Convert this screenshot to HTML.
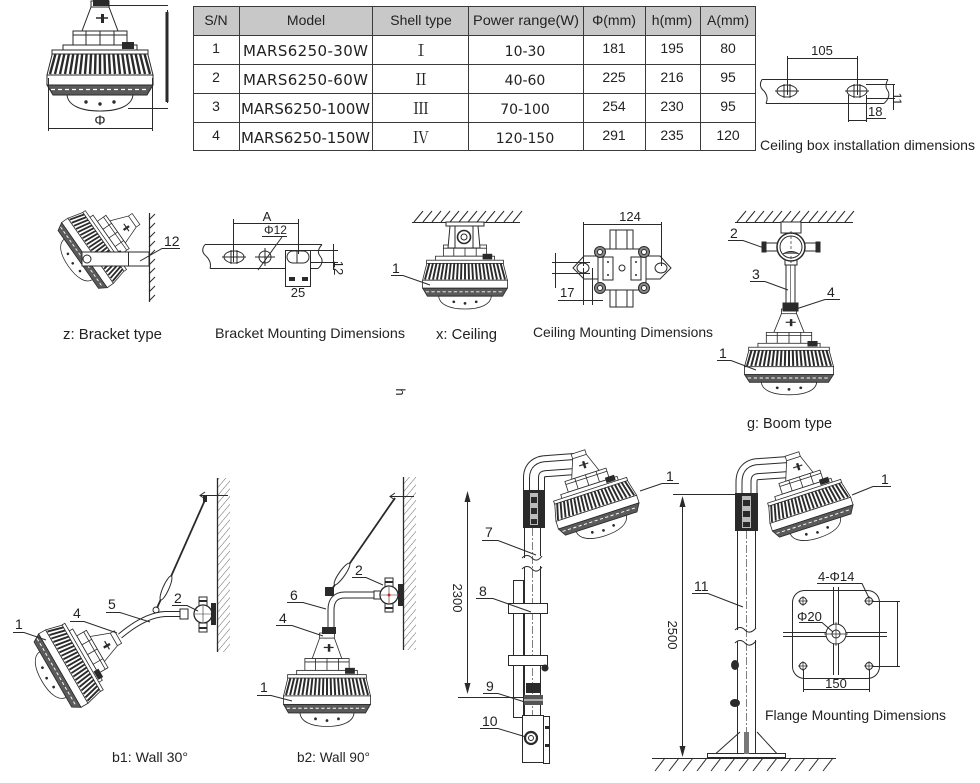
<!DOCTYPE html>
<html><head><meta charset="utf-8">
<style>
html,body{margin:0;padding:0;background:#fff;}
svg{display:block;}
text{font-family:"Liberation Sans",Arial,sans-serif;fill:#222;}
.dj{font-family:"DejaVu Sans","Liberation Sans",sans-serif;}
.rn{font-family:"Liberation Serif","Noto Serif CJK SC",serif;}
</style></head><body>
<svg width="980" height="783" viewBox="0 0 980 783" xmlns="http://www.w3.org/2000/svg">
<defs>
<pattern id="hatch" width="5" height="5" patternUnits="userSpaceOnUse" patternTransform="rotate(40)">
<line x1="0" y1="0" x2="0" y2="5" stroke="#555" stroke-width="0.9"/></pattern>
<g id="neck">
<path d="M-9,0 L9,0 L9,6 L18,30 L-18,30 L-9,6 Z" fill="#fff" stroke="#2a2a2a"/>
<path d="M-9,6 H9" stroke="#2a2a2a"/>
<rect x="1" y="13" width="3" height="9" fill="#2a2a2a"/>
<path d="M-4,17 H8" stroke="#2a2a2a" stroke-width="1.5"/>
</g>
<g id="body">
<rect x="-27" y="30" width="54" height="14" fill="#fff" stroke="#2a2a2a"/>
<path d="M-14,30V44M0,30V44M14,30V44M-27,34H27" stroke="#2a2a2a" fill="none"/>
<rect x="-37" y="44" width="74" height="6" fill="#fff" stroke="#2a2a2a"/>
<rect x="22" y="41" width="12" height="7" fill="#2a2a2a"/>
<path d="M-47,50 L47,50 L53,74 L-53,74 Z" fill="#fff" stroke="#2a2a2a"/>
<path d="M-44,51L-50,73M-39.6,51L-45,73M-35.2,51L-40,73M-30.8,51L-35,73M-26.4,51L-30,73M-22,51L-25,73M-17.6,51L-20,73M-13.2,51L-15,73M-8.8,51L-10,73M-4.4,51L-5,73M0,51L0,73M4.4,51L5,73M8.8,51L10,73M13.2,51L15,73M17.6,51L20,73M22,51L25,73M26.4,51L30,73M30.8,51L35,73M35.2,51L40,73M39.6,51L45,73M44,51L50,73" stroke="#2a2a2a" stroke-width="2.4"/>
<rect x="-48" y="49" width="96" height="4" fill="#fff" stroke="#2a2a2a"/>
<rect x="-53" y="74" width="106" height="10" fill="#fff" stroke="#2a2a2a"/>
<path d="M-53,84 L53,84 L47,94 L-47,94 Z" fill="#5a5a5a" stroke="#2a2a2a"/>
<path d="M-49,88.5 H49" stroke="#fff" stroke-width="1.2" stroke-dasharray="4 3"/>
<path d="M-33,94 C-32,104 -20,110 0,110 C20,110 32,104 33,94 Z" fill="#fff" stroke="#2a2a2a"/>
<circle cx="-14" cy="101" r="1.7" fill="#2a2a2a"/><circle cx="0" cy="103" r="1.7" fill="#2a2a2a"/><circle cx="14" cy="101" r="1.7" fill="#2a2a2a"/>
</g>
<g id="lamp"><use href="#neck"/><use href="#body"/></g>
</defs>

<!-- ===== Top-left lamp ===== -->
<use href="#lamp" transform="translate(100,1)"/>
<path d="M93,0 h16 v6 h-16z" fill="#2a2a2a"/>
<g stroke="#2a2a2a" fill="none" stroke-width="1">
<path d="M108,5.5 H168 M128,108.5 H168 M167.5,10 V103"/>
<path d="M48.5,78 V131 M152.5,78 V131 M48,128.5 H153"/>
</g>
<rect x="165.5" y="12" width="3" height="90" fill="#2a2a2a"/>
<text x="100" y="125" font-size="14" text-anchor="middle">Φ</text>

<!-- ===== Table ===== -->
<rect x="193" y="6" width="562" height="29" fill="#c8c8c8"/>
<g stroke="#3a3a3a" stroke-width="1" fill="none">
<path d="M193,6.5H755M193,35.5H755M193,64.5H755M193,93.5H755M193,122.5H755M193,150.5H755"/>
<path d="M193.5,6V151M239.5,6V151M372.5,6V151M468.5,6V151M583.5,6V151M645.5,6V151M700.5,6V151M755.5,6V151"/>
</g>
<g font-size="14" text-anchor="middle">
<text x="216" y="25">S/N</text>
<text x="306" y="25">Model</text>
<text x="421" y="25">Shell type</text>
<text x="526" y="25" textLength="106" lengthAdjust="spacingAndGlyphs">Power range(W)</text>
<text x="614" y="25">Φ(mm)</text>
<text x="672" y="25">h(mm)</text>
<text x="728" y="25">A(mm)</text>
<text x="216" y="53">1</text><text x="216" y="82">2</text><text x="216" y="111">3</text><text x="216" y="140">4</text>
<text x="614" y="53">181</text><text x="614" y="82">225</text><text x="614" y="111">254</text><text x="614" y="140">291</text>
<text x="672" y="53">195</text><text x="672" y="82">216</text><text x="672" y="111">230</text><text x="672" y="140">235</text>
<text x="728" y="53">80</text><text x="728" y="82">95</text><text x="728" y="111">95</text><text x="728" y="140">120</text>
</g>
<g class="dj" font-size="15" text-anchor="middle">
<text class="dj" x="305.5" y="56" textLength="125">MARS6250-30W</text>
<text class="dj" x="305.5" y="85" textLength="125">MARS6250-60W</text>
<text class="dj" x="305.5" y="114" textLength="129">MARS6250-100W</text>
<text class="dj" x="305.5" y="143" textLength="129">MARS6250-150W</text>
<text class="dj" x="525" y="56" font-size="14">10-30</text>
<text class="dj" x="525" y="85" font-size="14">40-60</text>
<text class="dj" x="525" y="114" font-size="14">70-100</text>
<text class="dj" x="525" y="143" font-size="14">120-150</text>
</g>
<g class="rn" font-size="16" text-anchor="middle">
<text class="rn" x="421" y="56">Ⅰ</text>
<text class="rn" x="421" y="85">Ⅱ</text>
<text class="rn" x="421" y="114">Ⅲ</text>
<text class="rn" x="421" y="143">Ⅳ</text>
</g>

<!-- ===== Ceiling box installation ===== -->
<g stroke="#2a2a2a" fill="none" stroke-width="1">
<path d="M762,79.5 H888 M766,103.5 H884"/>
<path d="M762,79.5 Q758,86 764,91 Q769,97 766,103.5 M888,79.5 Q884,86 888,91 Q891,97 884,103.5"/>
<ellipse cx="787" cy="91" rx="10" ry="6" fill="#fff"/>
<ellipse cx="857" cy="91" rx="10" ry="6" fill="#fff"/>
<path d="M775,91H799 M784,84V98 M790,84V98 M845,91H869 M854,84V98 M860,84V98"/>
<path d="M787.5,56 V95 M857.5,56 V95 M787,58.5 H858"/>
<path d="M866,84.5 H895 M866,98.5 H895 M893.5,84 V110"/>
<path d="M848.5,95 V122 M866.5,95 V122 M848,120.5 H867 M866,118.5 H886"/>
</g>
<text x="822" y="55" font-size="13" text-anchor="middle">105</text>
<text x="868" y="116" font-size="13">18</text>
<text transform="translate(893,99) rotate(90)" font-size="12" text-anchor="middle">11</text>
<text x="760" y="150" font-size="14" textLength="215" lengthAdjust="spacingAndGlyphs">Ceiling box installation dimensions</text>

<!-- ===== z: Bracket type ===== -->
<use href="#lamp" transform="translate(136,219) rotate(55) scale(0.75)"/>
<g stroke="#2a2a2a" stroke-width="1">
<rect x="82" y="252" width="67" height="14" fill="#fff"/>
<path d="M128.5,252V266" fill="none"/>
<circle cx="87" cy="259" r="4" fill="#fff"/>
<path d="M149.5,213 V302" fill="none" stroke-width="1.2"/>
<path d="M149,220 l6,-6 m-6,15 l6,-6 m-6,15 l6,-6 m-6,15 l6,-6 m-6,15 l6,-6 m-6,15 l6,-6 m-6,15 l6,-6 m-6,15 l6,-6 m-6,15 l6,-6 m-6,15 l6,-6" fill="none"/>
<path d="M180,248.5 H162 L140,261" fill="none"/>
</g>
<text x="164" y="246" font-size="14">12</text>
<text x="63" y="339" font-size="15" textLength="99" lengthAdjust="spacingAndGlyphs">z: Bracket type</text>

<!-- ===== Bracket Mounting Dimensions ===== -->
<g stroke="#2a2a2a" fill="none" stroke-width="1">
<path d="M205,244.5 H322 M210,268.5 H318"/>
<path d="M205,244.5 Q200,251 206,256 Q212,262 210,268.5 M322,244.5 Q316,251 320,256 Q325,262 318,268.5"/>
<ellipse cx="234" cy="257" rx="10" ry="6" fill="#fff"/>
<path d="M222,257H246 M231,250V264 M237,250V264"/>
<circle cx="265" cy="257" r="6" fill="#fff"/>
<path d="M255,257H275 M265,248V266"/>
<rect x="285.5" y="250.5" width="25" height="36" fill="#fff"/>
<rect x="287" y="251" width="22" height="12" rx="6" fill="#fff"/>
<path d="M297,251V263"/>
<path d="M233.5,219 V262 M298.5,219 V254 M233,223.5 H299"/>
<path d="M287,236.5 H262 M282,237 L258,270"/>
<path d="M310,250.5 H338 M310,262.5 H338 M333.5,244 V270"/>
</g>
<rect x="289" y="277" width="6" height="4" fill="#2a2a2a"/><rect x="302" y="277" width="6" height="4" fill="#2a2a2a"/>
<text x="267" y="221" font-size="13" text-anchor="middle">A</text>
<text x="264" y="234" font-size="12">Φ12</text>
<text x="298" y="297" font-size="13" text-anchor="middle">25</text>
<text transform="translate(334,268) rotate(90)" font-size="13" text-anchor="middle">12</text>
<text x="215" y="338" font-size="14" textLength="190" lengthAdjust="spacingAndGlyphs">Bracket Mounting Dimensions</text>

<!-- ===== x: Ceiling ===== -->
<g stroke="#2a2a2a" fill="none" stroke-width="1">
<path d="M412,222.5 H520"/>
<path d="M414,222 l9,-11 m0,11 l9,-11 m0,11 l9,-11 m0,11 l9,-11 m0,11 l9,-11 m0,11 l9,-11 m0,11 l9,-11 m0,11 l9,-11 m0,11 l9,-11 m0,11 l9,-11 m0,11 l9,-11 m0,11 l9,-11"/>
</g>
<use href="#body" transform="translate(465,221) scale(0.8)"/>
<g stroke="#2a2a2a" stroke-width="1">
<rect x="446" y="222" width="38" height="4" fill="#fff"/>
<path d="M450,226 L478,226 L480,248 L448,248 Z" fill="#fff"/>
<path d="M455,226V248 M473,226V248" fill="none"/>
<circle cx="464" cy="237" r="6.5" fill="#fff" stroke-width="1.6"/>
<circle cx="464" cy="237" r="3" fill="#fff"/>
<path d="M391,275.5 H403 L430,285" fill="none"/>
</g>
<text x="392" y="273" font-size="14">1</text>
<text x="436" y="339" font-size="15" textLength="61" lengthAdjust="spacingAndGlyphs">x: Ceiling</text>

<!-- ===== Ceiling Mounting Dimensions ===== -->
<g stroke="#2a2a2a" stroke-width="1" fill="#fff">
<rect x="610" y="230" width="23" height="77"/>
<path d="M616,230V307 M627,230V307" fill="none"/>
<path d="M573,268 L584,256 L660,256 L671,268 L660,279 L584,279 Z"/>
<rect x="598" y="249" width="48" height="41" rx="6"/>
<circle cx="600" cy="252" r="5.5" fill="#888"/><circle cx="644" cy="252" r="5.5" fill="#888"/>
<circle cx="600" cy="288" r="5.5" fill="#888"/><circle cx="644" cy="288" r="5.5" fill="#888"/>
<circle cx="600" cy="252" r="2.5"/><circle cx="644" cy="252" r="2.5"/>
<circle cx="600" cy="288" r="2.5"/><circle cx="644" cy="288" r="2.5"/>
<rect x="603" y="257" width="10" height="23"/><rect x="631" y="257" width="10" height="23"/>
<circle cx="622" cy="268" r="3"/>
<ellipse cx="583" cy="268" rx="6" ry="5"/><ellipse cx="661" cy="268" rx="6" ry="5"/>
<g fill="none">
<path d="M583.5,222 V266 M661.5,222 V266 M583,224.5 H662"/>
<path d="M583.5,268 V305 M592.5,268 V305 M558,300.5 H603"/>
<path d="M555.5,253 V288 M552,262.5 H590 M552,273.5 H590"/>
</g>
</g>
<circle cx="608" cy="262" r="1" fill="#2a2a2a"/><circle cx="608" cy="275" r="1" fill="#2a2a2a"/>
<circle cx="636" cy="262" r="1" fill="#2a2a2a"/><circle cx="636" cy="275" r="1" fill="#2a2a2a"/>
<text x="630" y="221" font-size="13" text-anchor="middle">124</text>
<text x="560" y="297" font-size="13">17</text>
<text x="533" y="337" font-size="14" textLength="180" lengthAdjust="spacingAndGlyphs">Ceiling Mounting Dimensions</text>

<!-- ===== g: Boom type ===== -->
<g stroke="#2a2a2a" fill="none" stroke-width="1">
<path d="M735,222.5 H853"/>
<path d="M737,222 l9,-11 m0,11 l9,-11 m0,11 l9,-11 m0,11 l9,-11 m0,11 l9,-11 m0,11 l9,-11 m0,11 l9,-11 m0,11 l9,-11 m0,11 l9,-11 m0,11 l9,-11 m0,11 l9,-11 m0,11 l9,-11 m0,11 l9,-11"/>
</g>
<use href="#lamp" transform="translate(789,309) scale(0.84,0.78)"/>
<g stroke="#2a2a2a" stroke-width="1">
<rect x="781" y="222" width="20" height="11" fill="#fff"/>
<rect x="786" y="264" width="9" height="41" fill="#fff"/>
<path d="M790.5,264V305" fill="none" stroke-width="0.6"/>
<rect x="783" y="303" width="15" height="8" fill="#2a2a2a"/>
<rect x="762" y="243" width="16" height="8" fill="#fff"/>
<rect x="804" y="243" width="16" height="8" fill="#fff"/>
<rect x="762" y="242" width="4" height="10" fill="#2a2a2a"/>
<rect x="816" y="242" width="4" height="10" fill="#2a2a2a"/>
<rect x="785" y="257" width="12" height="8" fill="#fff"/>
<circle cx="791" cy="247" r="14" fill="#fff" stroke-width="1.5"/>
<circle cx="791" cy="247" r="11" fill="#fff"/>
<path d="M791,231V263" fill="none" stroke-dasharray="3 2" stroke-width="0.7"/>
<path d="M783,254 Q791,249 799,254" fill="#777"/>
<path d="M728,240.5 H743 L764,248 M750,281.5 H765 L788,290 M840,299.5 H825 L796,309 M717,360.5 H731 L756,370" fill="none"/>
</g>
<g font-size="14">
<text x="730" y="238">2</text><text x="752" y="279">3</text><text x="827" y="297">4</text><text x="719" y="358">1</text>
</g>
<text x="747" y="428" font-size="15" textLength="85" lengthAdjust="spacingAndGlyphs">g: Boom type</text>

<text transform="translate(396,392) rotate(90)" font-size="13" text-anchor="middle">h</text>

<!-- ===== b1: Wall 30° ===== -->
<rect x="217" y="478" width="13" height="174" fill="url(#hatch)"/>
<use href="#lamp" transform="translate(118,637) rotate(60) scale(0.8)"/>
<g stroke="#2a2a2a" fill="none" stroke-width="1">
<path d="M217.5,478 V652" stroke-width="1.3"/>
<path d="M200,495.5 H228 M205,492 L200,495.5 L205,499"/>
<path d="M205,500 L157,608" stroke-width="1.8"/>
<ellipse cx="166" cy="588" rx="3" ry="13" transform="rotate(24 166 588)" fill="#fff"/>
<circle cx="156" cy="610" r="3"/>
<path d="M182,614 L165,614 Q145,615 120,636" stroke-width="6"/>
<path d="M182,614 L165,614 Q145,615 120,636" stroke="#fff" stroke-width="4"/>
<rect x="180" y="609" width="8" height="10" fill="#fff"/>
<rect x="199" y="597" width="8" height="9" fill="#fff"/>
<rect x="199" y="623" width="8" height="9" fill="#fff"/>
<circle cx="203" cy="614" r="9" fill="#fff" stroke-width="1.3"/>
<path d="M195,614H211 M203,606V622" stroke-width="0.6"/>
<path d="M13,632.5 H24 L46,640 M70,621.5 H84 L117,633 M106,612.5 H120 L150,622 M172,605.5 H187 L198,611"/>
</g>
<rect x="203" y="495" width="4" height="7" fill="#2a2a2a"/>
<rect x="211" y="603" width="5" height="22" fill="#2a2a2a"/>
<rect x="199" y="600" width="8" height="2" fill="#2a2a2a"/><rect x="199" y="627" width="8" height="2" fill="#2a2a2a"/>
<g font-size="14">
<text x="15" y="629">1</text><text x="73" y="618">4</text><text x="108" y="609">5</text><text x="174" y="603">2</text>
</g>
<text x="112" y="762" font-size="14" textLength="76" lengthAdjust="spacingAndGlyphs">b1: Wall 30°</text>

<!-- ===== b2: Wall 90° ===== -->
<rect x="403" y="477" width="13" height="173" fill="url(#hatch)"/>
<use href="#lamp" transform="translate(327,633) scale(0.82,0.85)"/>
<g stroke="#2a2a2a" fill="none" stroke-width="1">
<path d="M403.5,477 V650" stroke-width="1.3"/>
<path d="M390,496.5 H414 M395,493 L390,496.5 L395,500"/>
<path d="M395,498 L332,589" stroke-width="1.8"/>
<ellipse cx="342" cy="574" rx="3" ry="13" transform="rotate(35 342 574)" fill="#fff"/>
<path d="M385,595 L345,595 Q331,595 331,610 L331,631" stroke-width="7"/>
<path d="M385,595 L345,595 Q331,595 331,610 L331,631" stroke="#fff" stroke-width="5"/>
<rect x="374" y="591" width="7" height="8" fill="#fff"/>
<rect x="385" y="578" width="8" height="9" fill="#fff"/>
<rect x="385" y="603" width="8" height="9" fill="#fff"/>
<circle cx="389" cy="595" r="9" fill="#fff" stroke-width="1.3"/>
<path d="M381,595H397 M389,587V603" stroke-width="0.6"/>
<path d="M352,577.5 H366 L383,585 M287,602.5 H303 L326,609 M276,625.5 H292 L323,636 M257,695.5 H271 L292,701"/>
</g>
<rect x="325" y="587" width="9" height="9" fill="#2a2a2a"/>
<rect x="322" y="627" width="14" height="7" fill="#2a2a2a"/>
<rect x="398" y="584" width="5" height="22" fill="#2a2a2a"/>
<rect x="385" y="581" width="8" height="2" fill="#2a2a2a"/><rect x="385" y="607" width="8" height="2" fill="#2a2a2a"/>
<circle cx="389" cy="595" r="1.5" fill="#d22"/>
<g font-size="14">
<text x="355" y="575">2</text><text x="290" y="600">6</text><text x="279" y="623">4</text><text x="260" y="692">1</text>
</g>
<text x="297" y="762" font-size="14" textLength="73" lengthAdjust="spacingAndGlyphs">b2: Wall 90°</text>

<!-- ===== Pole 1 (2300) ===== -->
<g stroke="#2a2a2a" fill="none" stroke-width="1">
<path d="M534,492 L534,478 Q534,466 548,466 L575,464" stroke-width="22"/>
<path d="M534,492 L534,478 Q534,466 548,466 L575,464" stroke="#fff" stroke-width="20"/>
<path d="M534,492 L534,478 Q534,466 548,466 L575,464" stroke-width="10"/>
<path d="M534,492 L534,478 Q534,466 548,466 L575,464" stroke="#fff" stroke-width="8"/>
</g>
<use href="#lamp" transform="translate(578,452) rotate(-18) scale(0.8)"/>
<rect x="523" y="490" width="22" height="38" fill="#2a2a2a"/>
<rect x="530" y="493" width="8" height="32" fill="#bbb"/>
<rect x="531" y="497" width="6" height="6" fill="#2a2a2a"/><rect x="531" y="508" width="6" height="6" fill="#2a2a2a"/><rect x="531" y="519" width="6" height="5" fill="#2a2a2a"/>
<g stroke="#2a2a2a" fill="none" stroke-width="1">
<path d="M524.5,528 V558 M540.5,528 V556 M522,558 q5,-5 10,0 t10,-2"/>
<path d="M522,569 q5,-5 10,0 t10,-2 M524.5,567 V715 M540.5,566 V715"/>
<path d="M532.5,528 V715" stroke-width="0.6" stroke-dasharray="8 2 2 2"/>
<rect x="513.5" y="580.5" width="10" height="137" fill="#fff"/>
<rect x="508.5" y="603.5" width="39" height="10" fill="#fff"/>
<rect x="508.5" y="655.5" width="39" height="10" fill="#fff"/>
<rect x="522.5" y="715.5" width="21" height="47" fill="#fff"/>
<rect x="543.5" y="716.5" width="6" height="47" fill="#fff"/>
<circle cx="531" cy="738" r="6" stroke-width="2.2"/>
<circle cx="531" cy="738" r="2.5"/>
<path d="M467.5,496 V689 M458,697.5 H537"/>
<path d="M482,540.5 H498 L536,555 M476,598.5 H493 L531,612 M483,693.5 H498 L528,703 M480,728.5 H498 L526,737"/>
<path d="M679,483.5 H662 L640,491"/>
</g>
<polygon points="467.5,491 464.5,502 470.5,502" fill="#2a2a2a"/>
<polygon points="467.5,694 464.5,683 470.5,683" fill="#2a2a2a"/>
<rect x="526" y="683" width="15" height="10" fill="#2a2a2a"/>
<rect x="524" y="695" width="19" height="10" fill="#555"/>
<path d="M524,700 H543" stroke="#fff" stroke-width="1"/>
<circle cx="545" cy="668" r="3.5" fill="#2a2a2a"/>
<rect x="545" y="726" width="4" height="3" fill="#2a2a2a"/><rect x="545" y="744" width="4" height="3" fill="#2a2a2a"/>
<text transform="translate(453,598) rotate(90)" font-size="13" text-anchor="middle">2300</text>
<g font-size="14">
<text x="485" y="537">7</text><text x="479" y="596">8</text><text x="486" y="691">9</text><text x="482" y="726">10</text><text x="666" y="481">1</text>
</g>

<!-- ===== Pole 2 (2500) ===== -->
<g stroke="#2a2a2a" fill="none" stroke-width="1">
<path d="M746.5,495 L746.5,482 Q746.5,469 760,469 L789,467" stroke-width="22"/>
<path d="M746.5,495 L746.5,482 Q746.5,469 760,469 L789,467" stroke="#fff" stroke-width="20"/>
<path d="M746.5,495 L746.5,482 Q746.5,469 760,469 L789,467" stroke-width="10"/>
<path d="M746.5,495 L746.5,482 Q746.5,469 760,469 L789,467" stroke="#fff" stroke-width="8"/>
</g>
<use href="#lamp" transform="translate(792,454) rotate(-18) scale(0.8)"/>
<rect x="735" y="493" width="23" height="38" fill="#2a2a2a"/>
<rect x="742" y="496" width="9" height="32" fill="#bbb"/>
<rect x="743" y="500" width="7" height="6" fill="#2a2a2a"/><rect x="743" y="511" width="7" height="6" fill="#2a2a2a"/><rect x="743" y="522" width="7" height="5" fill="#2a2a2a"/>
<g stroke="#2a2a2a" fill="none" stroke-width="1">
<path d="M737.5,531 V630 M755.5,531 V628 M735,630 q5,-5 10,0 t11,-2"/>
<path d="M735,643 q5,-5 10,0 t11,-2 M737.5,641 V754 M755.5,640 V754"/>
<path d="M746.5,531 V754" stroke-width="0.6" stroke-dasharray="8 2 2 2"/>
<path d="M712,757 L740,732 M757,732 L780,757"/>
<rect x="707.5" y="753.5" width="78" height="4" fill="#fff"/>
<path d="M652,758.5 H836"/>
<path d="M655,771 l10,-13 m4,13 l10,-13 m4,13 l10,-13 m4,13 l10,-13 m4,13 l10,-13 m4,13 l10,-13 m4,13 l10,-13 m4,13 l10,-13 m4,13 l10,-13 m4,13 l10,-13 m4,13 l10,-13 m4,13 l10,-13 m4,13 l10,-13"/>
<path d="M682.5,500 V753 M673,494.5 H740"/>
<path d="M692,593.5 H708 L743,607 M873,486.5 H891 M873,486.5 L852,495"/>
</g>
<rect x="744" y="732" width="5" height="22" fill="#777"/>
<ellipse cx="735" cy="665" rx="4" ry="5" fill="#2a2a2a"/>
<ellipse cx="735" cy="703" rx="5" ry="4" fill="#2a2a2a"/>
<polygon points="682.5,496 679.5,507 685.5,507" fill="#2a2a2a"/>
<polygon points="682.5,757 679.5,746 685.5,746" fill="#2a2a2a"/>
<text transform="translate(668,635) rotate(90)" font-size="13" text-anchor="middle">2500</text>
<g font-size="14">
<text x="881" y="484">1</text><text x="694" y="591">11</text>
</g>

<!-- ===== Flange ===== -->
<g stroke="#2a2a2a" fill="none" stroke-width="1">
<rect x="792.5" y="590.5" width="87" height="88" rx="12" fill="#fff"/>
<path d="M833.5,587 V675 M838.5,587 V675 M783,632.5 H887 M783,636.5 H887"/>
<circle cx="836" cy="634" r="10" fill="#fff"/>
<circle cx="836" cy="634" r="4"/>
<path d="M824,634H848 M836,622V646" stroke-width="0.7"/>
<circle cx="803" cy="601" r="3.5"/><circle cx="869" cy="601" r="3.5"/>
<circle cx="803" cy="666" r="3.5"/><circle cx="869" cy="666" r="3.5"/>
<path d="M798,601H808M803,596V606M864,601H874M869,596V606M798,666H808M803,661V671M864,666H874M869,661V671" stroke-width="0.7"/>
<path d="M817,583.5 H862 L869,598"/>
<path d="M799,622.5 H822 L833,632"/>
<path d="M872,601.5 H900 M872,666.5 H900 M897.5,601 V667"/>
<path d="M803.5,669 V692 M869.5,669 V692 M803,689.5 H870"/>
</g>
<text x="818" y="581" font-size="13">4-Φ14</text>
<text x="797" y="621" font-size="13">Φ20</text>
<text x="836" y="688" font-size="13" text-anchor="middle">150</text>
<text x="765" y="720" font-size="14" textLength="181" lengthAdjust="spacingAndGlyphs">Flange Mounting Dimensions</text>
</svg>
</body></html>
